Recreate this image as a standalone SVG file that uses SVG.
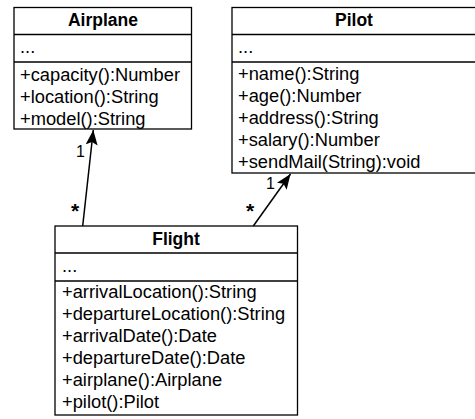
<svg xmlns="http://www.w3.org/2000/svg" width="475" height="419" viewBox="0 0 475 419">
<defs>
<style>
.box{fill:#fff;stroke:#000;stroke-width:1.3}
.sep{stroke:#000;stroke-width:1.3}
.t{font-family:"Liberation Sans",Arial,sans-serif;font-size:18.3px;fill:#000}
.h{font-family:"Liberation Sans",Arial,sans-serif;font-size:17.5px;font-weight:bold;fill:#000;text-anchor:middle}
.m{font-family:"Liberation Sans",Arial,sans-serif;font-size:16px;fill:#000}
.s{font-family:"Liberation Sans",Arial,sans-serif;font-size:21px;font-weight:bold;fill:#000}
.c{stroke:#000;stroke-width:1.5;fill:none}
</style>
<marker id="arr" markerWidth="16" markerHeight="12" viewBox="0 0 16 12" refX="15" refY="6" orient="auto" markerUnits="userSpaceOnUse">
<path d="M0,0 L15,6 L0,12 L3,6 Z" fill="#000"/>
</marker>
</defs>
<rect width="475" height="419" fill="#fff"/>
<g id="airplane">
<rect class="box" x="14" y="7.5" width="177.5" height="121.5"/>
<line class="sep" x1="14" y1="34.5" x2="191.5" y2="34.5"/>
<line class="sep" x1="14" y1="62" x2="191.5" y2="62"/>
<text class="h" x="103" y="26">Airplane</text>
<text class="t" x="20" y="53">...</text>
<text class="t" x="20" y="81">+capacity():Number</text>
<text class="t" x="20" y="103">+location():String</text>
<text class="t" x="20" y="125">+model():String</text>
</g>
<g id="pilot">
<rect class="box" x="232" y="7.5" width="246" height="165.5"/>
<line class="sep" x1="232" y1="34.5" x2="478" y2="34.5"/>
<line class="sep" x1="232" y1="62" x2="478" y2="62"/>
<text class="h" x="354" y="26">Pilot</text>
<text class="t" x="238" y="53">...</text>
<text class="t" x="238" y="80">+name():String</text>
<text class="t" x="238" y="102">+age():Number</text>
<text class="t" x="238" y="124">+address():String</text>
<text class="t" x="238" y="146">+salary():Number</text>
<text class="t" x="238" y="168">+sendMail(String):void</text>
</g>
<g id="flight">
<rect class="box" x="55" y="226" width="242.5" height="189"/>
<line class="sep" x1="55" y1="253" x2="297.5" y2="253"/>
<line class="sep" x1="55" y1="281" x2="297.5" y2="281"/>
<text class="h" x="176" y="245">Flight</text>
<text class="t" x="62" y="272">...</text>
<text class="t" x="62" y="298">+arrivalLocation():String</text>
<text class="t" x="62" y="320">+departureLocation():String</text>
<text class="t" x="62" y="342">+arrivalDate():Date</text>
<text class="t" x="62" y="364">+departureDate():Date</text>
<text class="t" x="62" y="386">+airplane():Airplane</text>
<text class="t" x="62" y="408">+pilot():Pilot</text>
</g>
<g id="connectors">
<line class="c" x1="82.7" y1="226" x2="93.3" y2="130" marker-end="url(#arr)"/>
<line class="c" x1="253.3" y1="226" x2="290.5" y2="174" marker-end="url(#arr)"/>
<text class="m" x="76" y="157">1</text>
<text class="s" x="71" y="218">*</text>
<text class="m" x="266" y="189">1</text>
<text class="s" x="246" y="218">*</text>
</g>
</svg>
